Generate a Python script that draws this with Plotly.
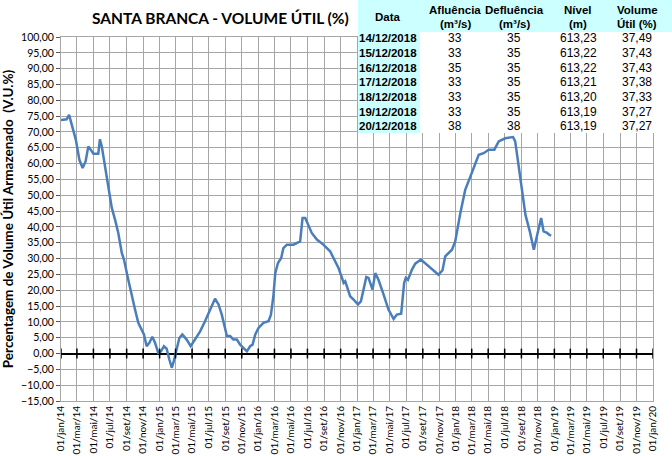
import plotly.graph_objects as go

# ---- series data ----
dates = [
    "2014-01-01", "2014-01-22", "2014-01-31", "2014-02-10", "2014-02-25", "2014-03-10", "2014-03-22",
    "2014-04-02", "2014-04-12", "2014-04-21", "2014-05-01", "2014-05-19", "2014-05-25", "2014-06-01",
    "2014-06-13", "2014-06-25", "2014-07-08", "2014-07-20", "2014-08-01", "2014-08-14", "2014-08-22",
    "2014-09-07", "2014-09-20", "2014-10-02", "2014-10-14", "2014-10-27", "2014-11-04", "2014-11-14",
    "2014-11-24", "2014-12-05", "2014-12-15", "2014-12-27", "2015-01-06", "2015-01-17", "2015-01-27",
    "2015-02-06", "2015-02-15", "2015-02-21", "2015-03-02", "2015-03-09", "2015-03-15", "2015-03-26",
    "2015-04-11", "2015-04-26", "2015-05-12", "2015-05-31", "2015-06-18", "2015-07-07", "2015-07-25",
    "2015-08-07", "2015-08-19", "2015-08-28", "2015-09-07", "2015-09-19", "2015-10-01", "2015-10-14",
    "2015-10-26", "2015-11-07", "2015-11-20", "2015-12-02", "2015-12-11", "2015-12-21", "2016-01-02",
    "2016-01-20", "2016-02-08", "2016-02-17", "2016-02-26", "2016-03-04", "2016-03-14", "2016-03-26",
    "2016-04-03", "2016-04-16", "2016-05-10", "2016-06-04", "2016-06-13", "2016-06-23", "2016-07-05",
    "2016-07-17", "2016-08-05", "2016-08-29", "2016-09-23", "2016-10-12", "2016-10-24", "2016-11-06",
    "2016-11-12", "2016-11-18", "2016-12-06", "2016-12-19", "2017-01-04", "2017-01-15", "2017-01-25",
    "2017-02-04", "2017-02-12", "2017-02-27", "2017-03-09", "2017-03-21", "2017-04-09", "2017-04-27",
    "2017-05-16", "2017-05-28", "2017-06-13", "2017-06-24", "2017-06-30", "2017-07-08", "2017-07-23",
    "2017-08-04", "2017-08-25", "2017-09-16", "2017-10-11", "2017-10-29", "2017-11-13", "2017-11-23",
    "2017-12-18", "2017-12-30", "2018-01-18", "2018-02-05", "2018-02-24", "2018-03-14", "2018-03-27",
    "2018-04-14", "2018-05-03", "2018-05-24", "2018-06-09", "2018-07-03", "2018-08-01", "2018-08-09",
    "2018-08-22", "2018-09-03", "2018-09-16", "2018-10-02", "2018-10-17", "2018-10-31", "2018-11-13",
    "2018-11-22", "2018-12-05", "2018-12-14", "2018-12-15", "2018-12-16", "2018-12-17", "2018-12-18",
    "2018-12-19", "2018-12-20",
]
volume = [
    73.8, 74.0, 75.4, 72.2, 67.5, 61.2, 58.6,
    60.7, 65.4, 64.4, 63.1, 63.1, 67.7, 65.4,
    59.1, 52.8, 46.0, 42.3, 38.1, 31.8, 29.7,
    23.3, 18.1, 13.9, 9.7, 7.6, 6.0, 2.3,
    3.4, 5.3, 3.4, 0.2, 0.7, 2.3, 1.5,
    -1.9, -4.5, -2.9, 0.2, 2.3, 4.9, 6.0,
    4.4, 2.3, 4.4, 7.0, 10.2, 13.9, 17.3,
    15.5, 12.3, 9.1, 5.5, 5.5, 4.4, 4.4,
    2.8, 1.8, 0.7, 2.3, 2.8, 6.0, 8.1,
    9.7, 10.2, 12.3, 18.1, 25.4, 28.6, 30.2,
    33.3, 34.4, 34.4, 35.4, 42.8, 42.8, 40.7,
    38.1, 36.0, 34.4, 32.3, 29.1, 27.0, 23.9,
    22.3, 22.8, 18.1, 17.0, 15.5, 16.5, 20.7,
    24.2, 23.9, 20.2, 25.4, 23.3, 18.6, 13.9,
    10.9, 12.3, 12.6, 22.3, 23.9, 23.3, 26.5,
    28.4, 29.7, 28.1, 26.3, 24.9, 26.3, 30.7,
    32.8, 35.4, 44.4, 51.7, 55.9, 60.1, 62.8,
    63.3, 64.4, 64.4, 67.0, 68.0, 68.4, 67.0,
    59.1, 50.7, 43.8, 38.6, 32.8, 38.1, 42.8,
    38.6, 38.1, 37.49, 37.43, 37.43, 37.38, 37.33,
    37.27, 37.27,
]

# ---- table data ----
table_dates = ["14/12/2018", "15/12/2018", "16/12/2018", "17/12/2018", "18/12/2018", "19/12/2018", "20/12/2018"]
afluencia = [33, 33, 35, 33, 33, 33, 38]
defluencia = [35, 35, 35, 35, 35, 35, 38]
nivel = ["613,23", "613,22", "613,22", "613,21", "613,20", "613,19", "613,19"]
volume_util = ["37,49", "37,43", "37,43", "37,38", "37,33", "37,27", "37,27"]
table_headers = [["Data"], ["Afluência", "(m³/s)"], ["Defluência", "(m³/s)"], ["Nível", "(m)"], ["Volume", "Útil (%)"]]

# ---- tick labels ----
month_abbr = ["jan", "mar", "mai", "jul", "set", "nov"]
month_num = [1, 3, 5, 7, 9, 11]
years = [2014, 2015, 2016, 2017, 2018, 2019]
tick_vals = []
tick_text = []
for yr in years:
    for m, ab in zip(month_num, month_abbr):
        tick_vals.append(f"{yr}-{m:02d}-01")
        tick_text.append(f"01/{ab}/{yr % 100:02d}")
tick_vals.append("2020-01-01")
tick_text.append("01/jan/20")

y_ticks = list(range(-15, 101, 5))

# ---- layout geometry (pixels) ----
W, H = 672, 456
L, R, T, B = 61, 19, 37, 55
PW, PH = W - L - R, H - T - B


def px(x):
    return (x - L) / PW


def py(y):
    return (H - B - y) / PH


GRID = "#A6A6A6"
LINE_BLUE = "#4A7EBB"

fig = go.Figure()
fig.add_trace(go.Scatter(
    x=dates, y=volume, mode="lines",
    line=dict(color=LINE_BLUE, width=2.5),
    hoverinfo="skip", showlegend=False,
))
# tick marks on the zero axis line
fig.add_trace(go.Scatter(
    x=tick_vals, y=[0] * len(tick_vals), mode="markers",
    marker=dict(symbol="line-ns", size=7, line=dict(color="black", width=1.5)),
    hoverinfo="skip", showlegend=False,
))

fig.update_layout(
    width=W, height=H,
    margin=dict(l=L, r=R, t=T, b=B, autoexpand=False),
    paper_bgcolor="white", plot_bgcolor="white",
    separators=",.",
    font=dict(family="Lato, Liberation Sans, sans-serif", color="black"),
    xaxis=dict(
        type="date", range=["2014-01-01", "2020-01-01"], automargin=False,
        tickvals=tick_vals, ticktext=tick_text, tickangle=-90,
        tickfont=dict(size=10, family="Lato, sans-serif"),
        showgrid=True, gridcolor=GRID, gridwidth=1,
        showline=True, linecolor=GRID, linewidth=1, mirror=True,
        ticks="", zeroline=False,
    ),
    yaxis=dict(
        range=[-15, 100], tickvals=y_ticks, tickformat=".2f", automargin=False,
        tickfont=dict(size=10.5, family="Lato, sans-serif"),
        showgrid=True, gridcolor=GRID, gridwidth=1,
        showline=True, linecolor=GRID, linewidth=1, mirror=True,
        ticks="outside", ticklen=4, tickcolor="#555555",
        zeroline=True, zerolinecolor="black", zerolinewidth=2,
        title=dict(text="<b>Percentagem de Volume Útil Armazenado  (V.U.%)</b>",
                   font=dict(size=13.5, family="Lato, sans-serif"), standoff=6),
    ),
)


def note(text, x, y, size, family):
    fig.add_annotation(text=text, xref="paper", yref="paper", x=px(x), y=py(y),
                       showarrow=False, xanchor="center", yanchor="middle",
                       font=dict(size=size, family=family, color="black"))


# Title
note("<b>SANTA BRANCA - VOLUME ÚTIL (%)</b>", 220, 18, 15.5, "Lato, sans-serif")

# Table backgrounds
CYAN = "#CCFFFF"
tab_x0, tab_x1 = 358, 672
hdr_y0, hdr_y1 = 0, 32
body_y1 = 133
col_split = 420
fig.add_shape(type="rect", xref="paper", yref="paper", layer="above",
              x0=px(col_split), x1=px(tab_x1), y0=py(body_y1), y1=py(hdr_y1),
              fillcolor="white", line=dict(width=0))
fig.add_shape(type="rect", xref="paper", yref="paper", layer="above",
              x0=px(tab_x0), x1=px(tab_x1), y0=py(hdr_y1), y1=py(hdr_y0),
              fillcolor=CYAN, line=dict(width=0))
fig.add_shape(type="rect", xref="paper", yref="paper", layer="above",
              x0=px(tab_x0), x1=px(col_split), y0=py(body_y1), y1=py(hdr_y1),
              fillcolor=CYAN, line=dict(width=0))

col_centers = [388, 455, 514, 578, 637]
TFONT = "Liberation Sans, Arial, sans-serif"
for cx, hdr in zip(col_centers, table_headers):
    if len(hdr) == 1:
        note(f"<b>{hdr[0]}</b>", cx, 17, 11.5, TFONT)
    else:
        note(f"<b>{hdr[0]}</b>", cx, 10, 11.5, TFONT)
        note(f"<b>{hdr[1]}</b>", cx, 24, 11.5, TFONT)

row_y0, row_dy = 38.5, 14.6
for i, d in enumerate(table_dates):
    ry = row_y0 + i * row_dy
    note(f"<b>{d}</b>", col_centers[0], ry, 11.5, TFONT)
    cells = [str(afluencia[i]), str(defluencia[i]), nivel[i], volume_util[i]]
    for cx, c in zip(col_centers[1:], cells):
        note(c, cx, ry, 12, TFONT)

fig.write_html("out.html", config={"displayModeBar": False},
               post_script="document.body.style.margin='0px';")
